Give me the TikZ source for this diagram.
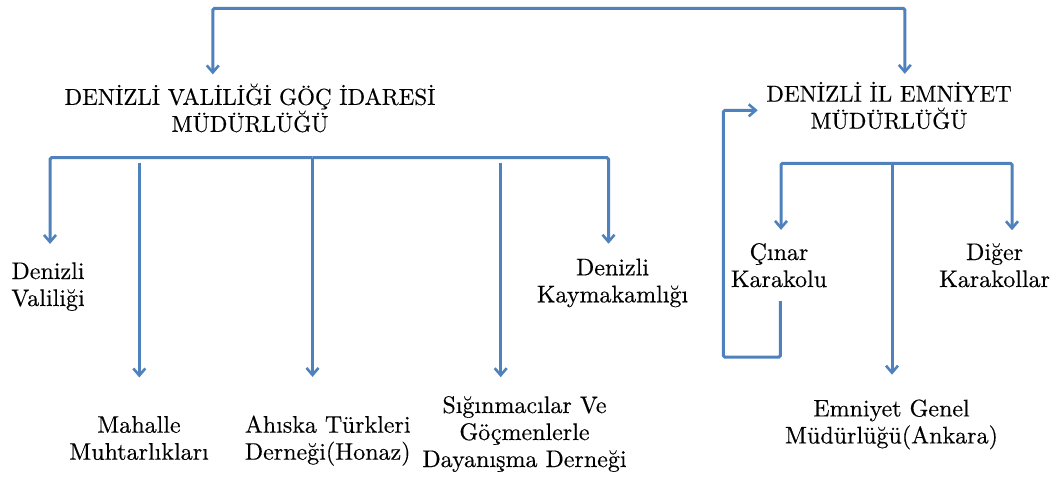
\documentclass[tikz,border=0pt]{standalone}
\usepackage{fontspec}
\setmainfont{lmroman10-regular.otf}[FakeBold=0.35]
\usetikzlibrary{arrows.meta}
\definecolor{ln}{HTML}{4F81BD}
\begin{document}
\begin{tikzpicture}[x=1pt,y=-1pt,
  line/.style={draw=ln, line width=3pt, rounded corners=1.5pt},
  tipV/.tip={Straight Barb[length=7pt,width=12pt,line width=2.6pt]},
  arr/.style={line, -tipV},
  lbl/.style={inner sep=0pt, align=center, font=\fontsize{24}{27}\selectfont, anchor=base},
  ttl/.style={lbl, font=\fontsize{23}{27}\selectfont}]
\useasboundingbox (0,0) rectangle (1057,481);

% nodes (positioned at the baseline of their last line)
\node[ttl] (gocL) at (250,131.8) {DENİZLİ VALİLİĞİ GÖÇ İDARESİ\\MÜDÜRLÜĞÜ};
\node[ttl] (emn) at (889,128.7) {DENİZLİ İL EMNİYET\\MÜDÜRLÜĞÜ};
\node[lbl] (vali) at (48,306) {Denizli\\Valiliği};
\node[lbl] (muht) at (139,459.7) {Mahalle\\Muhtarlıkları};
\node[lbl] (ahis) at (327.7,459.7) {Ahıska Türkleri\\Derneği(Honaz)};
\node[lbl] (sig) at (524.5,467) {Sığınmacılar Ve\\Göçmenlerle\\Dayanışma Derneği};
\node[lbl] (kay) at (612.5,302.3) {Denizli\\Kaymakamlığı};
\node[lbl] (cin) at (779,287) {Çınar\\Karakolu};
\node[lbl] (dig) at (994.6,287) {Diğer\\Karakollar};
\node[lbl] (egm) at (891.5,443.4) {Emniyet Genel\\Müdürlüğü(Ankara)};

% junction coordinates
\coordinate (tL) at (212.8,8.4);
\coordinate (tR) at (904.8,8.4);
\coordinate (b1) at (50,157.7);
\coordinate (b2) at (139.3,162.7);
\coordinate (b3) at (312.5,157.7);
\coordinate (b4) at (500.7,162.7);
\coordinate (b5) at (608.5,157.7);
\coordinate (r1) at (781,163.3);
\coordinate (r2) at (892,163.3);
\coordinate (r3) at (1012,163.3);
\coordinate (lp) at (723.3,357);

% top double connector
\draw[line, tipV-tipV, shorten <=9.1pt, shorten >=7.8pt]
  (tL |- gocL.north) -- (tL) -- (tR) -- (tR |- emn.north);

% left tree
\draw[arr, shorten >=18.2pt] (b3) -- (b1) -- (b1 |- vali.north);
\draw[arr, shorten >=14.7pt] (b3) -- (b5) -- (b5 |- kay.north);
\draw[arr, shorten >=38.4pt] (b3) -- (b3 |- ahis.north);
\draw[arr, shorten >=38.4pt] (b2) -- (b2 |- muht.north);
\draw[arr, shorten >=18.7pt] (b4) -- (b4 |- sig.north);

% right tree
\draw[arr, shorten >=13pt] (r2) -- (r1) -- (r1 |- cin.north);
\draw[arr, shorten >=13pt] (r2) -- (r3) -- (r3 |- dig.north);
\draw[arr, shorten >=24.6pt] (r2) -- (r2 |- egm.north);

% loop back
\draw[arr, shorten <=13.6pt, shorten >=8.4pt]
  ([xshift=1.4pt]cin.south) |- (lp) |- ([yshift=-4.8pt]emn.west);
\end{tikzpicture}
\end{document}
